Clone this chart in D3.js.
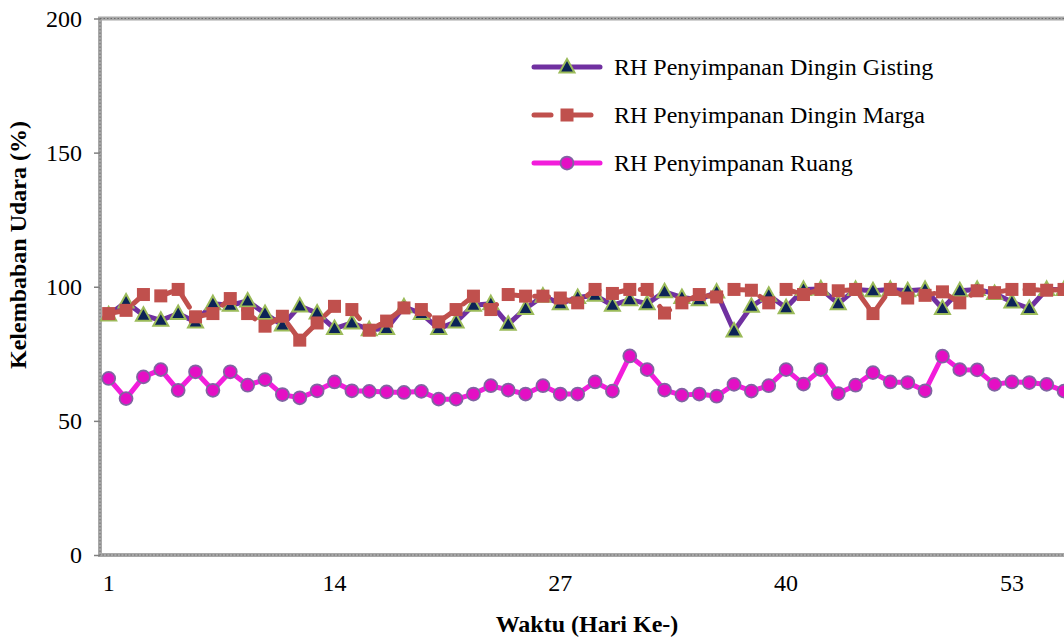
<!DOCTYPE html>
<html>
<head>
<meta charset="utf-8">
<script src="https://cdn.jsdelivr.net/npm/d3@7/dist/d3.min.js"></script>
<style>
  html, body { margin: 0; padding: 0; background: #fff; overflow: hidden; }
  svg { display: block; }
  text { font-family: "Liberation Serif", "Times New Roman", serif; fill: #000; }
</style>
</head>
<body>
<svg id="chart" width="1064" height="639"></svg>
<script>
// Daily relative humidity (%) for three storage conditions
const days = d3.range(1, 57);
const gisting = [89.5, 94.3, 89.4, 87.5, 90, 86.9, 93.7, 93.1, 94.7, 90,
                 85.7, 92.8, 90.2, 84.4, 86.5, 84, 84.4, 92.5, 90, 84.4,
                 86.9, 93.1, 93.7, 86, 91.9, 96.5, 93.7, 96, 96.8, 93.1,
                 95.2, 93.7, 98.1, 96, 95.2, 98, 83.5, 92.7, 96.8, 92.2,
                 99, 99.2, 93.7, 99, 98.5, 99, 98.5, 99, 91.9, 98.5,
                 99, 97.5, 94.3, 91.9, 99, 99];
const marga = [90, 91.2, 97.1, 96.6, 99, 88.8, 90, 95.6, 90, 85.3,
               89, 80.1, 86.5, 92.7, 91.5, 83.8, 87.2, 92.1, 91.5, 86.9,
               91.5, 96.5, 91.5, 97.1, 96.5, 96.5, 95.8, 94, 99, 97.5,
               99, 99, 90.2, 94, 97.1, 96.2, 99, 98.7, 94, 99,
               97.1, 99, 98.5, 99, 90, 99, 95.8, 96.8, 98.1, 94,
               98.5, 97.8, 99, 99, 98.7, 99];
const ruang = [65.8, 58.3, 66.4, 69.1, 61.4, 68.3, 61.4, 68.3, 63.3, 65.4,
               59.8, 58.6, 61.2, 64.5, 61.2, 61, 60.8, 60.6, 61, 58.1,
               58.1, 60, 63.1, 61.5, 60, 63.1, 60, 60, 64.5, 61.1,
               74.2, 69.1, 61.5, 59.6, 60, 59.2, 63.6, 61.1, 63.1, 69.1,
               63.7, 69.1, 60.2, 63.3, 68, 64.5, 64.3, 61.2, 74.1, 69.1,
               69, 63.6, 64.5, 64.3, 63.6, 61.1];

const seriesNames = ["RH Penyimpanan Dingin Gisting", "RH Penyimpanan Dingin Marga", "RH Penyimpanan Ruang"];
const yTicks = [0, 50, 100, 150, 200];
const xTickLabels = [1, 14, 27, 40, 53];

const svg = d3.select("#chart");

const plot = { left: 100, top: 18.5, bottom: 555, bandWidth: 17.37 };
const plotRight = plot.left + days.length * plot.bandWidth;

const x = d3.scaleBand().domain(days).range([plot.left, plotRight]);
const y = d3.scaleLinear().domain([0, 200]).range([plot.bottom, plot.top]);
const cx = d => x(d) + x.bandwidth() / 2;

const fontSize = 24;
const serif = "'Liberation Serif', 'Times New Roman', serif";

// Plot frame: thick grey border with a fine darker stipple
const frame = svg.append("g");
frame.append("rect")
  .attr("x", plot.left).attr("y", plot.top)
  .attr("width", plotRight - plot.left).attr("height", plot.bottom - plot.top)
  .attr("fill", "none").attr("stroke", "#a8a8a8").attr("stroke-width", 4);
frame.append("rect")
  .attr("x", plot.left).attr("y", plot.top)
  .attr("width", plotRight - plot.left).attr("height", plot.bottom - plot.top)
  .attr("fill", "none").attr("stroke", "#6e6e6e").attr("stroke-width", 1)
  .attr("stroke-dasharray", "1.5,2");

// Y axis
const yAxis = d3.axisLeft(y).tickValues(yTicks).tickSize(6).tickPadding(12);
const gy = svg.append("g").attr("transform", `translate(${plot.left},0)`).call(yAxis)
  .attr("font-family", serif).attr("font-size", fontSize);
gy.select(".domain").remove();
gy.selectAll(".tick line").attr("stroke", "#808080").attr("stroke-width", 1.5);
gy.selectAll(".tick text").attr("fill", "#000").attr("dy", "0.33em");

// X axis
const xAxis = d3.axisBottom(x).tickValues(xTickLabels).tickSize(0).tickPadding(19);
const gx = svg.append("g").attr("transform", `translate(0,${plot.bottom})`).call(xAxis)
  .attr("font-family", serif).attr("font-size", fontSize);
gx.select(".domain").remove();
gx.selectAll(".tick text").attr("fill", "#000");

// Axis titles
svg.append("text")
  .attr("x", 587).attr("y", 632)
  .attr("text-anchor", "middle")
  .style("font-size", fontSize + "px").style("font-weight", "bold")
  .text("Waktu (Hari Ke-)");
svg.append("text")
  .attr("transform", "translate(26,245) rotate(-90)")
  .attr("text-anchor", "middle")
  .style("font-size", fontSize + "px").style("font-weight", "bold")
  .text("Kelembaban Udara (%)");

// Series styling
const styles = [
  { values: gisting, line: "#7030a0", dash: null, marker: "triangle" },
  { values: marga, line: "#c0504d", dash: "14,14", marker: "square" },
  { values: ruang, line: "#f21ddb", dash: null, marker: "circle" }
];

function drawMarker(g, type, px, py) {
  if (type === "triangle") {
    g.append("path")
      .attr("d", `M${px},${py - 8} L${px + 7.5},${py + 5.5} L${px - 7.5},${py + 5.5} Z`)
      .attr("fill", "#0c2357").attr("stroke", "#9bbb59").attr("stroke-width", 2)
      .attr("stroke-linejoin", "miter");
  } else if (type === "square") {
    g.append("rect")
      .attr("x", px - 6.5).attr("y", py - 6.5).attr("width", 13).attr("height", 13)
      .attr("fill", "#c0504d");
  } else {
    g.append("circle")
      .attr("cx", px).attr("cy", py).attr("r", 6.5)
      .attr("fill", "#e40fc4").attr("stroke", "#8064a2").attr("stroke-width", 1.75);
  }
}

svg.append("clipPath").attr("id", "plotClip")
  .append("rect").attr("x", 0).attr("y", 0).attr("width", 1064).attr("height", 639);

const lineGen = d3.line().x((d, i) => cx(days[i])).y(d => y(d));

styles.forEach(s => {
  const g = svg.append("g").attr("clip-path", "url(#plotClip)");
  g.append("path")
    .datum(s.values)
    .attr("d", lineGen)
    .attr("fill", "none")
    .attr("stroke", s.line)
    .attr("stroke-width", 5)
    .attr("stroke-linejoin", "round")
    .attr("stroke-linecap", "round")
    .attr("stroke-dasharray", s.dash);
  s.values.forEach((v, i) => drawMarker(g, s.marker, cx(days[i]), y(v)));
});

// Legend
const legend = svg.append("g");
const legendRows = [67, 115, 163];
styles.forEach((s, i) => {
  const ly = legendRows[i];
  const row = legend.append("g");
  if (s.dash) {
    row.append("line").attr("x1", 534).attr("x2", 551).attr("y1", ly).attr("y2", ly)
      .attr("stroke", s.line).attr("stroke-width", 5).attr("stroke-linecap", "round");
    row.append("line").attr("x1", 573).attr("x2", 591).attr("y1", ly).attr("y2", ly)
      .attr("stroke", s.line).attr("stroke-width", 5).attr("stroke-linecap", "round");
  } else {
    row.append("line").attr("x1", 534).attr("x2", 600).attr("y1", ly).attr("y2", ly)
      .attr("stroke", s.line).attr("stroke-width", 5).attr("stroke-linecap", "round");
  }
  drawMarker(row, s.marker, 567, ly);
  row.append("text").attr("x", 614).attr("y", ly + 8)
    .style("font-size", fontSize + "px")
    .text(seriesNames[i]);
});
</script>
</body>
</html>
